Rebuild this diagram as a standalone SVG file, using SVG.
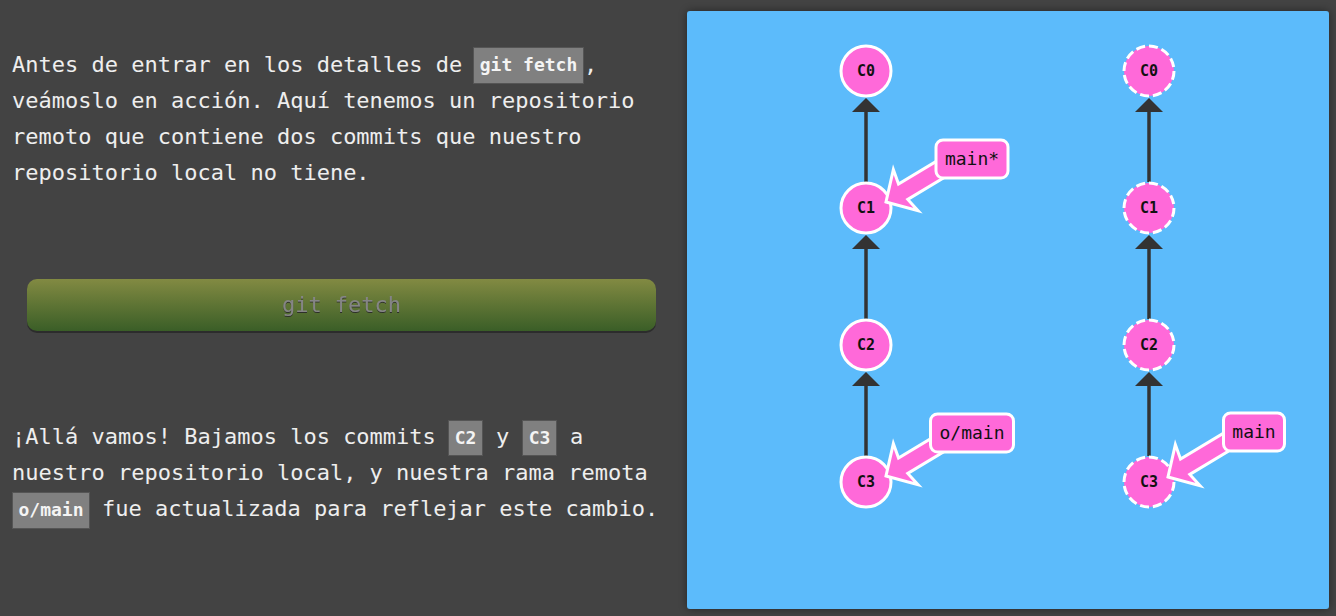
<svg xmlns="http://www.w3.org/2000/svg" width="1336" height="616" viewBox="0 0 1336 616">
<defs>
<style>
.body{font-family:"DejaVu Sans Mono","Liberation Mono",monospace;font-size:22px;fill:#eeeeee}
.code{fill:#808080;stroke:#555555;stroke-width:1}
.codet{font-family:"DejaVu Sans Mono","Liberation Mono",monospace;font-size:18px;font-weight:bold;fill:#f4f4f4;text-anchor:middle}
.commit{fill:#ff69d9;stroke:#ffffff;stroke-width:3}
.dashed{stroke-dasharray:9 4}
.ctext{font-family:"DejaVu Sans Mono","Liberation Mono",monospace;font-size:15px;font-weight:bold;fill:#111111;text-anchor:middle}
.edge{stroke:#333333;stroke-width:3.5;fill:none}
.head{fill:#333333}
.barrow{fill:#ff69d9;stroke:#ffffff;stroke-width:3}
.bbox{fill:#ff69d9;stroke:#ffffff;stroke-width:3}
.btext{font-family:"DejaVu Sans Mono","Liberation Mono",monospace;font-size:18px;fill:#111111;text-anchor:middle}
</style>
<linearGradient id="btn" x1="0" y1="0" x2="0" y2="1">
<stop offset="0" stop-color="#828a42"/>
<stop offset="1" stop-color="#3a5e27"/>
</linearGradient>
<filter id="shadow" x="-5%" y="-5%" width="110%" height="110%">
<feDropShadow dx="0" dy="0" stdDeviation="5" flood-color="#000000" flood-opacity="0.45"/>
</filter>
<filter id="tshadow" x="-10%" y="-30%" width="120%" height="160%">
<feDropShadow dx="0" dy="1" stdDeviation="0.6" flood-color="#2a2a2a" flood-opacity="0.9"/>
</filter>
<path id="barrowShape" d="M0,0 L-23,-24 L-20,-9 L-95,-9 L-95,9 L-20,9 L-23,24 Z"/>
</defs>
<rect x="0" y="0" width="1336" height="616" fill="#434343"/>

<g id="intro-text">
<text class="body" x="12" y="72">Antes de entrar en los detalles de</text>
<rect class="code" x="473.5" y="47.5" width="110" height="36"/>
<text class="codet" x="528.5" y="71">git fetch</text>
<text class="body" x="584" y="72">,</text>
<text class="body" x="12" y="108">veámoslo en acción. Aquí tenemos un repositorio</text>
<text class="body" x="12" y="144">remoto que contiene dos commits que nuestro</text>
<text class="body" x="12" y="180">repositorio local no tiene.</text>
</g>

<g id="button">
<rect x="27" y="281" width="629" height="52" rx="10" fill="#2c2c2c"/>
<rect x="27" y="279" width="629" height="52" rx="10" fill="url(#btn)"/>
<text x="341.5" y="312" text-anchor="middle" filter="url(#tshadow)" style="font-family:'DejaVu Sans Mono','Liberation Mono',monospace;font-size:22px;fill:#858585">git fetch</text>
</g>

<g id="outro-text">
<text class="body" x="12" y="444">¡Allá vamos! Bajamos los commits</text>
<rect class="code" x="448.5" y="420.5" width="34" height="35"/>
<text class="codet" x="465.5" y="444">C2</text>
<text class="body" x="496" y="444">y</text>
<rect class="code" x="522.5" y="420.5" width="34" height="35"/>
<text class="codet" x="539.5" y="444">C3</text>
<text class="body" x="570" y="444">a</text>
<text class="body" x="12" y="480">nuestro repositorio local, y nuestra rama remota</text>
<rect class="code" x="12.5" y="492.5" width="77" height="36"/>
<text class="codet" x="51" y="516">o/main</text>
<text class="body" x="102" y="516">fue actualizada para reflejar este cambio.</text>
</g>

<rect id="panel" x="687" y="11" width="642" height="598" rx="3" fill="#5cbbfb" filter="url(#shadow)"/>

<g id="connectors">
<line class="edge" x1="866" y1="111" x2="866" y2="182"/>
<polygon class="head" points="866,98 880,112 852,112"/>
<line class="edge" x1="866" y1="248" x2="866" y2="319"/>
<polygon class="head" points="866,235 880,249 852,249"/>
<line class="edge" x1="866" y1="385" x2="866" y2="456"/>
<polygon class="head" points="866,372 880,386 852,386"/>
<line class="edge" x1="1149" y1="111" x2="1149" y2="182"/>
<polygon class="head" points="1149,98 1163,112 1135,112"/>
<line class="edge" x1="1149" y1="248" x2="1149" y2="319"/>
<polygon class="head" points="1149,235 1163,249 1135,249"/>
<line class="edge" x1="1149" y1="385" x2="1149" y2="456"/>
<polygon class="head" points="1149,372 1163,386 1135,386"/>
</g>

<g id="local-C0"><circle class="commit" cx="866" cy="71" r="25"/><text class="ctext" x="866" y="76">C0</text></g>
<g id="local-C1"><circle class="commit" cx="866" cy="208" r="25"/><text class="ctext" x="866" y="213">C1</text></g>
<g id="local-C2"><circle class="commit" cx="866" cy="345" r="25"/><text class="ctext" x="866" y="350">C2</text></g>
<g id="local-C3"><circle class="commit" cx="866" cy="482" r="25"/><text class="ctext" x="866" y="487">C3</text></g>

<g id="remote-C0"><circle class="commit dashed" cx="1149" cy="71" r="25"/><text class="ctext" x="1149" y="76">C0</text></g>
<g id="remote-C1"><circle class="commit dashed" cx="1149" cy="208" r="25"/><text class="ctext" x="1149" y="213">C1</text></g>
<g id="remote-C2"><circle class="commit dashed" cx="1149" cy="345" r="25"/><text class="ctext" x="1149" y="350">C2</text></g>
<g id="remote-C3"><circle class="commit dashed" cx="1149" cy="482" r="25"/><text class="ctext" x="1149" y="487">C3</text></g>

<g id="branch-main-local">
<use href="#barrowShape" class="barrow" transform="translate(886,202) rotate(149)"/>
<rect class="bbox" x="936" y="140" width="72" height="38" rx="7"/>
<text class="btext" x="972" y="165">main*</text>
</g>
<g id="branch-o-main">
<use href="#barrowShape" class="barrow" transform="translate(886,476) rotate(149)"/>
<rect class="bbox" x="930.5" y="414" width="83" height="38" rx="7"/>
<text class="btext" x="972" y="439">o/main</text>
</g>
<g id="branch-main-remote">
<use href="#barrowShape" class="barrow" transform="translate(1168,477) rotate(149)"/>
<rect class="bbox" x="1223.5" y="413" width="61" height="38" rx="7"/>
<text class="btext" x="1254" y="438">main</text>
</g>
</svg>
